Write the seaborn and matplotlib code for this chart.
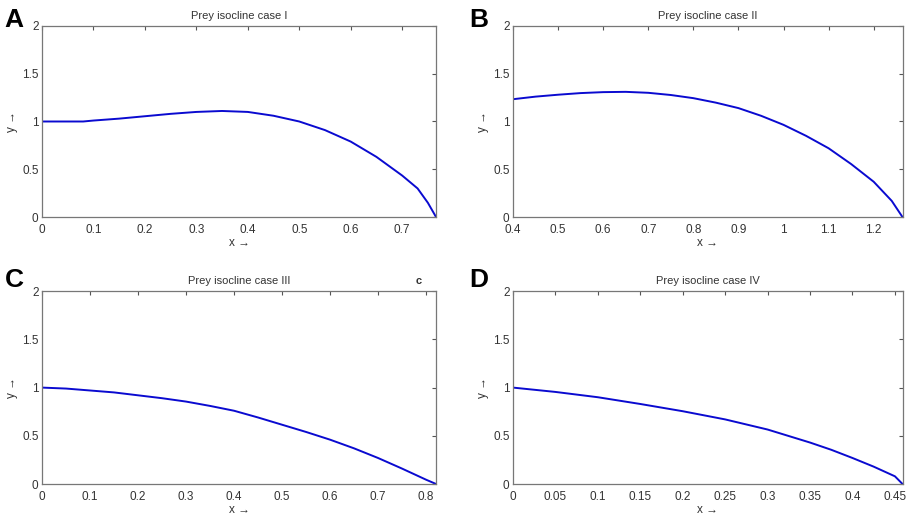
import seaborn as sns
import matplotlib.pyplot as plt
import pandas as pd

# Values
xA = [0, 0.05, 0.08, 0.1, 0.15, 0.2, 0.25, 0.3, 0.35, 0.4, 0.45, 0.5, 0.55, 0.6, 0.65, 0.7, 0.73, 0.75, 0.766]
yA = [1.0, 1.0, 1.0, 1.01, 1.03, 1.055, 1.08, 1.10, 1.11, 1.10, 1.06, 1.0, 0.91, 0.79, 0.63, 0.435, 0.30, 0.15, 0.0]

xB = [0.4, 0.45, 0.5, 0.55, 0.6, 0.65, 0.7, 0.75, 0.8, 0.85, 0.9, 0.95, 1.0, 1.05, 1.1, 1.15, 1.2, 1.24, 1.264]
yB = [1.233, 1.26, 1.28, 1.297, 1.307, 1.31, 1.30, 1.277, 1.244, 1.197, 1.14, 1.06, 0.965, 0.85, 0.72, 0.555, 0.37, 0.17, 0.0]

xC = [0, 0.05, 0.1, 0.15, 0.2, 0.25, 0.3, 0.35, 0.4, 0.45, 0.5, 0.55, 0.6, 0.65, 0.7, 0.75, 0.8, 0.821]
yC = [1.0, 0.99, 0.97, 0.95, 0.92, 0.89, 0.855, 0.81, 0.76, 0.69, 0.615, 0.54, 0.46, 0.37, 0.27, 0.16, 0.045, 0.0]

xD = [0, 0.05, 0.1, 0.15, 0.2, 0.25, 0.3, 0.35, 0.375, 0.4, 0.425, 0.45, 0.459]
yD = [1.0, 0.955, 0.90, 0.83, 0.755, 0.67, 0.565, 0.43, 0.355, 0.27, 0.18, 0.08, 0.0]

titles = ["Prey isocline case I", "Prey isocline case II", "Prey isocline case III", "Prey isocline case IV"]
letters = ["A", "B", "C", "D"]
xlims = [(0, 0.766), (0.4, 1.264), (0, 0.821), (0, 0.459)]
xticks = [
    [0, 0.1, 0.2, 0.3, 0.4, 0.5, 0.6, 0.7],
    [0.4, 0.5, 0.6, 0.7, 0.8, 0.9, 1, 1.1, 1.2],
    [0, 0.1, 0.2, 0.3, 0.4, 0.5, 0.6, 0.7, 0.8],
    [0, 0.05, 0.1, 0.15, 0.2, 0.25, 0.3, 0.35, 0.4, 0.45],
]
xticklabels = [
    ["0", "0.1", "0.2", "0.3", "0.4", "0.5", "0.6", "0.7"],
    ["0.4", "0.5", "0.6", "0.7", "0.8", "0.9", "1", "1.1", "1.2"],
    ["0", "0.1", "0.2", "0.3", "0.4", "0.5", "0.6", "0.7", "0.8"],
    ["0", "0.05", "0.1", "0.15", "0.2", "0.25", "0.3", "0.35", "0.4", "0.45"],
]
yticks = [0, 0.5, 1, 1.5, 2]
yticklabels = ["0", "0.5", "1", "1.5", "2"]

sns.set_style("white")
plt.rcParams['font.family'] = ['Liberation Sans', 'DejaVu Sans']

fig = plt.figure(figsize=(9.08, 5.17), dpi=100)

# axes boxes [left, bottom, width, height] in figure fractions
boxes = [
    [0.0463, 0.580, 0.434, 0.370],
    [0.565, 0.580, 0.429, 0.370],
    [0.0463, 0.0638, 0.434, 0.373],
    [0.565, 0.0638, 0.429, 0.373],
]
# panel letter anchors (top-left corner, figure fractions)
letter_pos = [(0.005, 0.985), (0.517, 0.985), (0.005, 0.482), (0.517, 0.482)]

series = [(xA, yA), (xB, yB), (xC, yC), (xD, yD)]

for i in range(4):
    ax = fig.add_axes(boxes[i])
    df = pd.DataFrame({'x': series[i][0], 'y': series[i][1]})
    sns.lineplot(data=df, x='x', y='y', ax=ax, color='#0a0ad0', linewidth=1.4, sort=False)

    ax.set_xlim(*xlims[i])
    ax.set_ylim(0, 2)
    ax.set_xticks(xticks[i])
    ax.set_xticklabels(xticklabels[i])
    ax.set_yticks(yticks)
    ax.set_yticklabels(yticklabels)
    ax.tick_params(direction='in', length=3, width=0.8, colors='#555555',
                   labelcolor='#333333', labelsize=8.5, top=True, right=True, pad=2.5)
    ax.tick_params(axis='x', pad=5)
    for s in ax.spines.values():
        s.set_color('#777777')
        s.set_linewidth(0.9)

    ax.set_title(titles[i], fontsize=8, color='#333333', pad=5)
    ax.set_xlabel("x \u2192", fontsize=8.5, color='#333333', labelpad=1)
    ax.set_ylabel("y \u2192", fontsize=8.5, color='#333333', labelpad=3)

    # panel letter
    fig.text(letter_pos[i][0], letter_pos[i][1], letters[i],
             fontsize=19, fontweight='bold', color='black', ha='left', va='top')

# stray "c" mark on panel C
fig.text(0.461, 0.447, "c", fontsize=8, fontweight='bold', color='#333333', ha='center', va='bottom')

fig.savefig("out.png", dpi=100)
